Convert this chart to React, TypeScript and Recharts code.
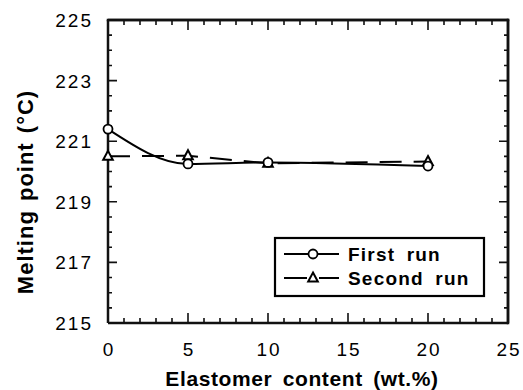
import React from 'react';
import { LineChart, Line, XAxis, YAxis, Label, ReferenceLine } from 'recharts';

const xValues = [0, 5, 10, 20];
const firstRun = [221.4, 220.25, 220.3, 220.18];
const secondRun = [220.5, 220.52, 220.27, 220.33];
const xTicks = [0, 1, 2, 3, 4, 5, 6, 7, 8, 9, 10, 11, 12, 13, 14, 15, 16, 17, 18, 19, 20, 21, 22, 23, 24, 25];
const xLabels = [0, 5, 10, 15, 20, 25];
const yTicks = [215, 215.5, 216, 216.5, 217, 217.5, 218, 218.5, 219, 219.5, 220, 220.5, 221, 221.5, 222, 222.5, 223, 223.5, 224, 224.5, 225];
const yLabels = [215, 217, 219, 221, 223, 225];
const seriesNames = ['First run', 'Second run'];
const xTitle = 'Elastomer content (wt.%)';
const yTitle = 'Melting point (°C)';

const data = xValues.map((x, i) => ({ x, first: firstRun[i], second: secondRun[i] }));

const X_MIN = 0;
const X_MAX = 25;
const Y_MIN = 215;
const Y_MAX = 225;

const CHART_W = 523;
const CHART_H = 390;
const MARGIN = { top: 20, right: 15, left: 0, bottom: 0 };
const PLOT_TOP = MARGIN.top;
const PLOT_RIGHT = CHART_W - MARGIN.right;

const INK = '#111';
const FONT = '"Liberation Sans", Arial, Helvetica, sans-serif';
const AX = { stroke: INK, strokeWidth: 2.5 };

const renderBottomTick = (p: any) => {
  const v = p.payload.value;
  const major = xLabels.includes(v);
  return (
    <g key={`bt${v}`}>
      {major && (
        <text x={p.x + 1} y={p.y + 33} textAnchor="middle" fontFamily={FONT} fontSize={19} letterSpacing={2} fill="#000">
          {v}
        </text>
      )}
    </g>
  );
};

const renderLeftTick = (p: any) => {
  const v = p.payload.value;
  const major = yLabels.includes(v);
  return (
    <g key={`lt${v}`}>
      {major && (
        <text x={p.x - 15} y={p.y + 7} textAnchor="end" fontFamily={FONT} fontSize={19} letterSpacing={2} fill="#000">
          {v}
        </text>
      )}
    </g>
  );
};

const CircleDot = (p: any) => (
  <circle key={`c${p.index}`} cx={p.cx} cy={p.cy} r={4.5} fill="#fff" stroke="#000" strokeWidth={1.8} />
);

const TriDot = (p: any) => (
  <path
    key={`t${p.index}`}
    d={`M${p.cx},${p.cy - 5.5} L${p.cx + 4.8},${p.cy + 3.5} L${p.cx - 4.8},${p.cy + 3.5} Z`}
    fill="#fff"
    stroke="#000"
    strokeWidth={2}
  />
);

const XAxisDecor = (props: any) => {
  const vb = props.viewBox;
  const pos = (v: number) => vb.x + ((v - X_MIN) / (X_MAX - X_MIN)) * vb.width;
  const bottom = xTicks.map((v) => `M${pos(v)},${vb.y} v${xLabels.includes(v) ? -10 : -5}`).join(' ');
  const top = xTicks.map((v) => `M${pos(v)},${PLOT_TOP} v${xLabels.includes(v) ? 10 : 5}`).join(' ');
  return (
    <g>
      <path d={`${bottom} ${top}`} stroke={INK} strokeWidth={1.6} fill="none" />
      <path d={`M${vb.x - 1.25},${PLOT_TOP} H${vb.x + vb.width + 1.25}`} stroke={INK} strokeWidth={2.5} fill="none" />
      <text x={vb.x + vb.width / 2 - 6} y={vb.y + 63} textAnchor="middle" fontFamily={FONT} fontWeight="bold" fontSize={21} letterSpacing={0.6} wordSpacing={4} fill="#000">
        {xTitle}
      </text>
    </g>
  );
};

const YAxisDecor = (props: any) => {
  const vb = props.viewBox;
  const left = vb.x + vb.width;
  const pos = (v: number) => vb.y + ((Y_MAX - v) / (Y_MAX - Y_MIN)) * vb.height;
  const leftTicks = yTicks.map((v) => `M${left},${pos(v)} h${yLabels.includes(v) ? 9 : 4}`).join(' ');
  const rightTicks = yTicks.map((v) => `M${PLOT_RIGHT},${pos(v)} h${yLabels.includes(v) ? -9 : -4}`).join(' ');
  const cx = 25;
  const cy = 192;
  return (
    <g>
      <path d={`${leftTicks} ${rightTicks}`} stroke={INK} strokeWidth={1.6} fill="none" />
      <path d={`M${PLOT_RIGHT},${vb.y - 1.25} V${vb.y + vb.height + 1.25}`} stroke={INK} strokeWidth={2.5} fill="none" />
      <text x={cx} y={cy} transform={`rotate(-90 ${cx} ${cy})`} textAnchor="middle" dominantBaseline="central" fontFamily={FONT} fontWeight="bold" fontSize={22} letterSpacing={1} wordSpacing={2} fill="#000">
        {yTitle}
      </text>
    </g>
  );
};

const LegendBox = () => (
  <svg width={215} height={64} style={{ position: 'absolute', left: 272, top: 235 }}>
    <rect x={3} y={3} width={209} height={58} fill="#fff" stroke="#000" strokeWidth={2.2} />
    <line x1={12} x2={67} y1={19} y2={19} stroke="#000" strokeWidth={2} />
    <circle cx={41} cy={19} r={4.5} fill="#fff" stroke="#000" strokeWidth={1.8} />
    <text x={76} y={26} fontFamily={FONT} fontWeight="bold" fontSize={19} letterSpacing={1.2} wordSpacing={5} fill="#000">
      {seriesNames[0]}
    </text>
    <line x1={12} x2={35} y1={43} y2={43} stroke="#000" strokeWidth={2} />
    <line x1={47} x2={67} y1={43} y2={43} stroke="#000" strokeWidth={2} />
    <path d="M41,37.5 L45.8,46.5 L36.2,46.5 Z" fill="#fff" stroke="#000" strokeWidth={2} />
    <text x={76} y={50} fontFamily={FONT} fontWeight="bold" fontSize={19} letterSpacing={1.2} wordSpacing={5} fill="#000">
      {seriesNames[1]}
    </text>
  </svg>
);

export default function App() {
  return (
    <div style={{ position: 'fixed', left: 0, top: 0, width: CHART_W, height: CHART_H, background: '#fff', overflow: 'hidden' }}>
      <LineChart width={CHART_W} height={CHART_H} data={data} margin={MARGIN}>
        <XAxis
          dataKey="x"
          type="number"
          domain={[X_MIN, X_MAX]}
          ticks={xTicks}
          interval={0}
          height={67}
          tickSize={0}
          tickMargin={0}
          axisLine={AX}
          tickLine={false}
          tick={renderBottomTick}
        >
          <Label content={<XAxisDecor />} />
        </XAxis>
        <YAxis
          type="number"
          domain={[Y_MIN, Y_MAX]}
          ticks={yTicks}
          interval={0}
          width={108}
          tickSize={0}
          tickMargin={0}
          axisLine={AX}
          tickLine={false}
          tick={renderLeftTick}
        >
          <Label content={<YAxisDecor />} />
        </YAxis>
        <ReferenceLine y={Y_MAX} stroke={INK} strokeWidth={2.5} ifOverflow="extendDomain" />
        <ReferenceLine x={X_MAX} stroke={INK} strokeWidth={2.5} ifOverflow="extendDomain" />
        <Line
          dataKey="second"
          name={seriesNames[1]}
          type="linear"
          stroke="#000"
          strokeWidth={2}
          strokeDasharray="22 12"
          dot={TriDot}
          isAnimationActive={false}
        />
        <Line
          dataKey="first"
          name={seriesNames[0]}
          type="monotone"
          stroke="#000"
          strokeWidth={2}
          dot={CircleDot}
          isAnimationActive={false}
        />
      </LineChart>
      <LegendBox />
    </div>
  );
}
